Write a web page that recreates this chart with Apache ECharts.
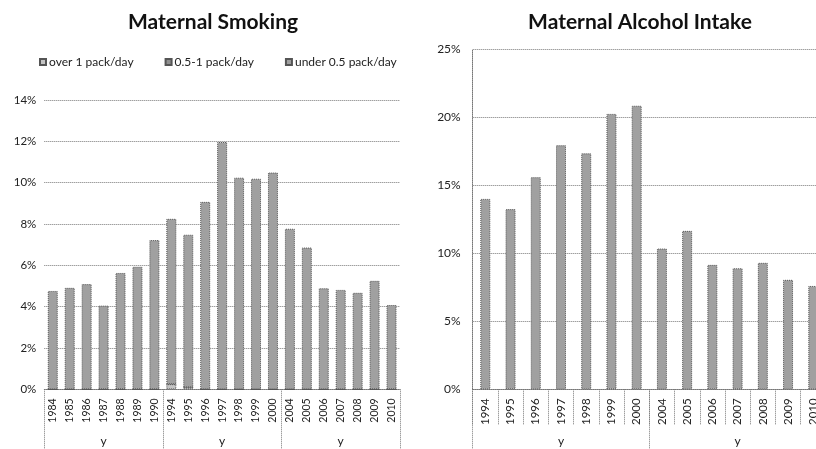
<!DOCTYPE html>
<html>
<head>
<meta charset="utf-8" />
<title>Maternal Smoking / Alcohol</title>
<script src="https://cdn.jsdelivr.net/npm/echarts@6/dist/echarts.min.js"></script>
<style>
  html, body { margin: 0; padding: 0; background: #fff; }
  #chart { width: 816px; height: 449px; }
</style>
</head>
<body>
<div id="chart"></div>
<script>
// smoking chart, three stacked bands (%), 3 groups of 7 years
var smokeYears = ['1984','1985','1986','1987','1988','1989','1990',
                  '1994','1995','1996','1997','1998','1999','2000',
                  '2004','2005','2006','2007','2008','2009','2010'];
var smokeGroups = ['y', 'y', 'y'];
var smokeOver1 = [0, 0, 0, 0, 0, 0, 0,
                  0.25, 0.1, 0, 0, 0, 0, 0,
                  0, 0, 0, 0, 0, 0, 0];
var smokeMid = [0, 0, 0, 0, 0, 0, 0,
                0, 0, 0, 0, 0, 0, 0,
                0, 0, 0, 0, 0, 0, 0];
var smokeUnder = [4.76, 4.91, 5.09, 4.05, 5.63, 5.93, 7.22,
                  8.0, 7.38, 9.07, 11.97, 10.24, 10.19, 10.49,
                  7.77, 6.86, 4.89, 4.81, 4.67, 5.25, 4.08];
var smokeTicks = [0, 2, 4, 6, 8, 10, 12, 14];

// alcohol chart (cut off at the right edge in the original)
var alcYears = ['1994','1995','1996','1997','1998','1999','2000',
                '2004','2005','2006','2007','2008','2009','2010'];
var alcGroups = ['y', 'y'];
var alcValues = [14.0, 13.25, 15.6, 17.95, 17.35, 20.25, 20.85,
                 10.35, 11.65, 9.15, 8.9, 9.3, 8.05, 7.6];
var alcTicks = [0, 5, 10, 15, 20, 25];

var FONT = 'Lato';
var dotLine = { color: '#777', type: 'dotted', width: 1 };
var barStyle = function (c) {
    return { color: c, borderColor: '#555', borderType: 'dotted', borderWidth: 1 };
};

var myChart = echarts.init(document.getElementById('chart'));
myChart.setOption({
    animation: false,
    textStyle: { fontFamily: FONT, color: '#222' },
    title: [
        { text: 'Maternal Smoking', left: 208, top: 7, textAlign: 'center',
          textStyle: { fontFamily: FONT, fontSize: 21, fontWeight: 'bold', color: '#111' } },
        { text: 'Maternal Alcohol Intake', left: 635, top: 7, textAlign: 'center',
          textStyle: { fontFamily: FONT, fontSize: 21, fontWeight: 'bold', color: '#111' } }
    ],
    legend: {
        left: 34, top: 51,
        itemWidth: 6, itemHeight: 6, itemGap: 31,
        icon: 'rect',
        textStyle: { fontFamily: FONT, fontSize: 12, color: '#222', padding: [0, 0, 0, -2] },
        data: ['over 1 pack/day', '0.5-1 pack/day', 'under 0.5 pack/day']
    },
    grid: [
        { left: 44.3, top: 100, width: 355.7, height: 289.3, outerBoundsMode: 'none' },
        { left: 472.7, top: 49.3, width: 353.2, height: 340, outerBoundsMode: 'none' }
    ],
    xAxis: [
        { gridIndex: 0, type: 'category', data: smokeYears, position: 'bottom',
          axisLine: { lineStyle: dotLine }, axisTick: { show: false },
          axisLabel: { rotate: 90, margin: 9, fontSize: 10.5, color: '#222', interval: 0 } },
        { gridIndex: 0, type: 'category', data: smokeGroups, position: 'bottom',
          axisLine: { show: false },
          axisTick: { show: true, length: 62, lineStyle: dotLine },
          axisLabel: { margin: 46, fontSize: 12, color: '#222' } },
        { gridIndex: 1, type: 'category', data: alcYears, position: 'bottom',
          axisLine: { lineStyle: dotLine },
          axisTick: { show: true, length: 35, lineStyle: dotLine },
          axisLabel: { rotate: 90, margin: 9, fontSize: 11.5, color: '#222', interval: 0 } },
        { gridIndex: 1, type: 'category', data: alcGroups, position: 'bottom',
          axisLine: { show: false },
          axisTick: { show: true, length: 62, lineStyle: dotLine },
          axisLabel: { margin: 46, fontSize: 12, color: '#222' } }
    ],
    yAxis: [
        { gridIndex: 0, type: 'value', min: 0, max: smokeTicks[smokeTicks.length - 1], interval: 2,
          axisLine: { show: false }, axisTick: { show: false },
          splitLine: { lineStyle: dotLine },
          axisLabel: { formatter: '{value}%', margin: 8, fontSize: 11.5, color: '#222' } },
        { gridIndex: 1, type: 'value', min: 0, max: alcTicks[alcTicks.length - 1], interval: 5,
          axisLine: { show: true, lineStyle: dotLine }, axisTick: { show: false },
          splitLine: { lineStyle: dotLine },
          axisLabel: { formatter: '{value}%', margin: 12, fontSize: 12, color: '#222' } }
    ],
    series: [
        { name: 'over 1 pack/day', type: 'bar', stack: 'smoke', xAxisIndex: 0, yAxisIndex: 0,
          barWidth: 10, data: smokeOver1, itemStyle: barStyle('#c4c4c4') },
        { name: '0.5-1 pack/day', type: 'bar', stack: 'smoke', xAxisIndex: 0, yAxisIndex: 0,
          barWidth: 10, data: smokeMid, itemStyle: barStyle('#8f8f8f') },
        { name: 'under 0.5 pack/day', type: 'bar', stack: 'smoke', xAxisIndex: 0, yAxisIndex: 0,
          barWidth: 10, data: smokeUnder, itemStyle: barStyle('#a0a0a0') },
        { name: 'alcohol', type: 'bar', xAxisIndex: 2, yAxisIndex: 1,
          barWidth: 10, data: alcValues, itemStyle: barStyle('#a0a0a0') }
    ]
});
</script>
</body>
</html>
